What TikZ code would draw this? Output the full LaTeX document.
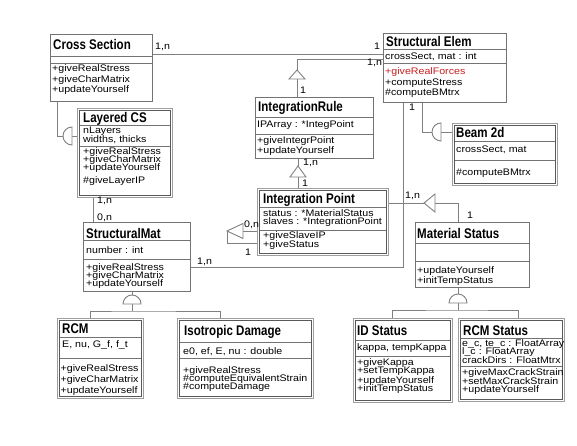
\documentclass[tikz,border=0pt]{standalone}
\usepackage{fontspec}
\setmainfont{Liberation Sans}[FakeStretch=1.12]
\newfontfamily\ttlfont{Liberation Sans}[FakeStretch=0.825]
\definecolor{lineg}{gray}{0.5}
\definecolor{boxg}{gray}{0.45}
\definecolor{outg}{gray}{0.62}
\definecolor{inng}{gray}{0.35}
\definecolor{redt}{RGB}{200,30,30}
\tikzset{
  conn/.style={draw=lineg, line width=0.9pt},
  tri/.style={draw=lineg, line width=0.9pt, fill=white},
  sbx/.style={draw=boxg, line width=0.9pt, fill=white, inner sep=0pt, anchor=north west},
  dbx/.style={draw=outg, line width=0.9pt, fill=white, inner sep=0pt, anchor=north west},
  innr/.style={draw=inng, line width=0.8pt},
  divl/.style={draw=boxg, line width=0.8pt},
  txt/.style={inner sep=0pt, anchor=base west, font=\fontsize{9.5}{9.5}\selectfont},
  ttl/.style={inner sep=0pt, anchor=base west, font=\ttlfont\bfseries\fontsize{14}{14}\selectfont},
  lbl/.style={inner sep=0pt, anchor=base west, font=\fontsize{9.5}{9.5}\selectfont},
}
\newcommand{\umlsingle}[5]{\node[sbx, minimum width={#4-#2}, minimum height={#5-#3}] (#1) at (#2,#3) {};}
\newcommand{\umldouble}[5]{\node[dbx, minimum width={#4-#2}, minimum height={#5-#3}] (#1) at (#2,#3) {};
  \draw[innr] ([shift={(2.5,2.5)}]#1.north west) rectangle ([shift={(-2.5,-2.5)}]#1.south east);}
\newcommand{\hdiv}[3]{\draw[divl] (#1,#3) -- (#2,#3);}
\newcommand{\tlines}[3]{\foreach \yy/\tl [count=\ti] in {#3}{\node[txt] (#1-\ti) at (#2,\yy) {\tl};}}
\begin{document}
\begin{tikzpicture}[x=1pt,y=-1pt]
\useasboundingbox (0,0) rectangle (577,446);
\fill[white] (0,0) rectangle (577,446);

% ---------- classes ----------
\umlsingle{cs}{50}{34}{152}{101}
\node[ttl] (cs-t) at (53,50) {Cross Section};
\hdiv{50}{152}{56} \hdiv{50}{152}{63}
\tlines{cs-m}{52}{72/+giveRealStress, 82.5/+giveCharMatrix, 93/+updateYourself}

\umlsingle{se}{383}{33}{506}{102}
\node[ttl] (se-t) at (386,47) {Structural Elem};
\hdiv{383}{506}{49} \hdiv{383}{506}{63.5}
\tlines{se-a}{385}{60/{crossSect, mat : int}}
\tlines{se-m}{385}{75/{\textcolor{redt}{+giveRealForces}}, 85.5/+computeStress, 96/\#computeBMtrx}

\umlsingle{ir}{255}{97}{373}{158}
\node[ttl] (ir-t) at (258,112) {IntegrationRule};
\hdiv{255}{373}{117} \hdiv{255}{373}{134}
\tlines{ir-a}{257}{128/{IPArray : *IntegPoint}}
\tlines{ir-m}{257}{144/+giveIntegrPoint, 154/+updateYourself}

\umldouble{lcs}{77}{108}{172}{197}
\node[ttl] (lcs-t) at (83,123) {Layered CS};
\hdiv{79.5}{169.5}{125.5} \hdiv{79.5}{169.5}{146}
\tlines{lcs-a}{83}{134/nLayers, 142.5/{widths, thicks}}
\tlines{lcs-m}{83}{155/+giveRealStress, 163/+giveCharMatrix, 171/+updateYourself, 184/\#giveLayerIP}

\umlsingle{sm}{83}{222}{190}{291}
\node[ttl] (sm-t) at (86,238) {StructuralMat};
\hdiv{83}{190}{240.5} \hdiv{83}{190}{259}
\tlines{sm-a}{86}{253/{number : int}}
\tlines{sm-m}{86}{270/+giveRealStress, 278/+giveCharMatrix, 286/+updateYourself}

\umldouble{ip}{257}{188}{388}{255}
\node[ttl] (ip-t) at (263,204) {Integration Point};
\hdiv{259.5}{385.5}{207} \hdiv{259.5}{385.5}{230.5}
\tlines{ip-a}{263}{216/{status : *MaterialStatus}, 224/{slaves : *IntegrationPoint}}
\tlines{ip-m}{263}{238.5/+giveSlaveIP, 247.5/+giveStatus}

\umldouble{b2}{452}{123}{557}{185}
\node[ttl] (b2-t) at (456,138) {Beam 2d};
\hdiv{454.5}{554.5}{141} \hdiv{454.5}{554.5}{160}
\tlines{b2-a}{456}{153/{crossSect, mat}}
\tlines{b2-m}{456}{176/\#computeBMtrx}

\umlsingle{ms}{415}{222}{529}{287}
\node[ttl] (ms-t) at (417,238) {Material Status};
\hdiv{415}{529}{243} \hdiv{415}{529}{261}
\tlines{ms-m}{417}{273/+updateYourself, 283.5/+initTempStatus}

\umldouble{rcm}{57}{318}{143}{398}
\node[ttl] (rcm-t) at (62,333) {RCM};
\hdiv{59.5}{140.5}{337} \hdiv{59.5}{140.5}{358}
\tlines{rcm-a}{62}{347/{E, nu, G\_f, f\_t}}
\tlines{rcm-m}{60.5}{371/+giveRealStress, 382/+giveCharMatrix, 393/+updateYourself}

\umldouble{isd}{177}{318}{313}{398}
\node[ttl] (isd-t) at (184,335) {Isotropic Damage};
\hdiv{179.5}{310.5}{342} \hdiv{179.5}{310.5}{358}
\tlines{isd-a}{183}{354/{e0, ef, E, nu : double}}
\tlines{isd-m}{183}{373/+giveRealStress, 381/\#computeEquivalentStrain, 389/\#computeDamage}

\umldouble{ids}{353}{318}{452}{402}
\node[ttl] (ids-t) at (357,335) {ID Status};
\hdiv{355.5}{449.5}{340} \hdiv{355.5}{449.5}{356}
\tlines{ids-a}{357}{350/{kappa, tempKappa}}
\tlines{ids-m}{357}{365/+giveKappa, 373.5/+setTempKappa, 383/+updateYourself, 391.5/+initTempStatus}

\umldouble{rs}{458}{318}{564}{401}
\node[ttl] (rs-t) at (463,335) {RCM Status};
\hdiv{460.5}{561.5}{338} \hdiv{460.5}{561.5}{366.5}
\tlines{rs-a}{462}{346/{e\_c, te\_c : FloatArray}, 354.5/{l\_c : FloatArray}, 363/{crackDirs : FloatMtrx}}
\tlines{rs-m}{462}{375.5/+giveMaxCrackStrain, 384/+setMaxCrackStrain, 392.5/+updateYourself}

% ---------- connectors ----------
% Cross Section -- Structural Elem
\draw[conn] (cs.east |- 0,54) -- (se.west |- 0,54);
% Structural Elem -- IntegrationRule
\coordinate (a1) at (297,70); \coordinate (a1b) at (297,79);
\draw[conn] (se.west |- 0,59) -| (a1);
\draw[conn] (a1b) -- (a1b |- ir.north);
\draw[tri] (a1) -- ++(-8,9) -- ++(16,0) -- cycle;
% IntegrationRule -- Integration Point
\coordinate (a2) at (298,166); \coordinate (a2b) at (298,177);
\draw[conn] (a2 |- ir.south) -- (a2);
\draw[conn] (a2b) -- (a2b |- ip.north);
\draw[tri] (a2) -- ++(-8,11) -- ++(16,0) -- cycle;
% Integration Point -- Material Status
\coordinate (a3) at (424,203); \coordinate (a3b) at (435,203);
\draw[conn] (ip.east |- a3) -- (a3);
\draw[conn] (a3b) -| (ms.north -| 458,0);
\draw[tri] (a3) -- ++(11,-9) -- ++(0,18) -- cycle;
% Integration Point self association
\coordinate (a4) at (227,231); \coordinate (a4b) at (243,231);
\draw[conn] (a4b) -- (ip.west |- a4b);
\draw[conn] (a4) |- (ip.west |- 0,243);
\draw[tri] (a4) -- ++(16,-7.5) -- ++(0,15) -- cycle;
% StructuralMat -- Structural Elem
\coordinate (k1) at (403,267);
\draw[conn] (sm.east |- k1) -- (k1) -- (k1 |- se.south);
% Layered CS -- StructuralMat
\draw[conn] (lcs.south -| 93,0) -- (sm.north -| 93,0);
% Cross Section -> Layered CS
\coordinate (h1) at (63,136); \coordinate (h1b) at (72,136);
\draw[conn] (cs.south -| 57,0) |- (h1);
\draw[conn] (h1b) -- (lcs.west |- h1b);
\draw[tri] (h1b) ++(0,-9) arc[start angle=90, end angle=270, radius=9pt] -- cycle;
% Structural Elem -> Beam 2d
\coordinate (h2) at (432,132); \coordinate (h2b) at (441,132);
\draw[conn] (se.south -| 422,0) |- (h2);
\draw[conn] (h2b) -- (b2.west |- h2b);
\draw[tri] (h2b) ++(0,-9) arc[start angle=90, end angle=270, radius=9pt] -- cycle;
% StructuralMat -> RCM, Isotropic Damage
\coordinate (h3) at (132,295); \coordinate (h3b) at (132,304); \coordinate (j1) at (132,311);
\draw[conn] (sm.south -| h3) -- (h3);
\draw[conn] (h3b) -- (j1);
\draw[conn] (rcm.north -| 90,0) |- (j1) -| (isd.north -| 220,0);
\draw[tri] (h3b) ++(-9,0) arc[start angle=180, end angle=0, radius=9pt] -- cycle;
% Material Status -> ID Status, RCM Status
\coordinate (h4) at (458,294); \coordinate (h4b) at (458,303); \coordinate (j2) at (458,310);
\draw[conn] (ms.south -| h4) -- (h4);
\draw[conn] (h4b) -- (j2);
\draw[conn] (ids.north -| 392,0) |- (j2) -| (rs.north -| 518,0);
\draw[tri] (h4b) ++(-9,0) arc[start angle=180, end angle=0, radius=9pt] -- cycle;

% ---------- multiplicities ----------
\node[lbl] (l1) at (155,50) {1,n};
\node[lbl] (l2) at (374,50) {1};
\node[lbl] (l3) at (367,66) {1,n};
\node[lbl] (l4) at (300,94) {1};
\node[lbl] (l5) at (303,166) {1,n};
\node[lbl] (l6) at (302,186) {1};
\node[lbl] (l7) at (97,204) {1,n};
\node[lbl] (l8) at (97,220) {0,n};
\node[lbl] (l9) at (197,264) {1,n};
\node[lbl] (l10) at (409,111) {1};
\node[lbl] (l11) at (405,199) {1,n};
\node[lbl] (l12) at (467,218) {1};
\node[lbl] (l13) at (244,227) {0,n};
\node[lbl] (l14) at (245,255) {1};
\end{tikzpicture}
\end{document}
